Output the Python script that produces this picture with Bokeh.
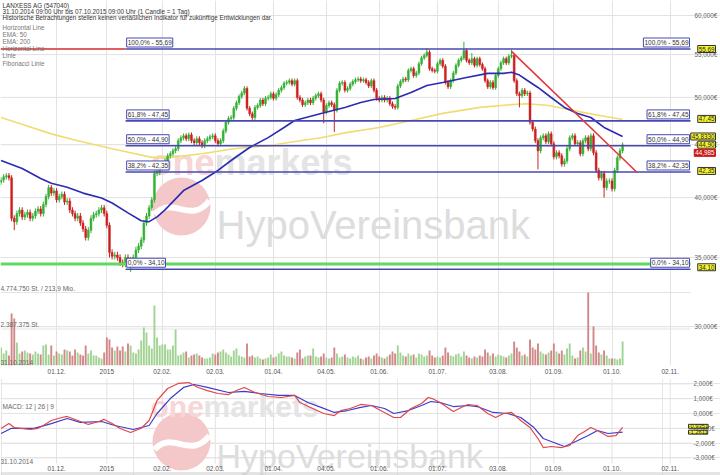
from bokeh.plotting import figure
from bokeh.models import Range1d, LinearScale, FixedTicker, ColumnDataSource
from bokeh.layouts import column
from bokeh.embed import file_html
from bokeh.resources import INLINE
from bokeh.core.properties import value

# ---------------- data ----------------
TICK_DAYS = [21, 40, 61, 81, 103, 123, 143, 165, 188, 209, 231, 253]
TICK_LABELS = ["01.12.", "2015", "02.02.", "02.03.", "01.04.", "04.05.",
               "01.06.", "01.07.", "03.08.", "01.09.", "01.10.", "02.11."]

FIRST_OPEN = 41.4
CLOSE = [
    41.6, 41.9, 42.0, 41.8, 38.2, 37.9, 38.6, 38.9, 38.3, 38.5,
    38.7, 38.2, 38.4, 38.8, 39.0, 38.6, 39.4, 40.1, 40.9, 40.4,
    40.6, 39.8, 40.1, 40.3, 39.6, 39.7, 38.9, 38.6, 38.2, 38.4,
    37.8, 37.3, 36.6, 37.2, 38.2, 38.5, 38.6, 38.9, 39.1, 38.6,
    37.6, 35.4, 35.1, 35.2, 35.0, 34.6, 34.5, 35.0, 34.8, 34.8,
    35.0, 35.6, 35.9, 36.4, 37.8, 38.4, 39.1, 39.8, 42.2, 42.3,
    42.7, 43.0, 43.4, 43.9, 44.1, 44.4, 44.6, 45.4, 45.7, 45.9,
    45.6, 46.0, 45.4, 45.2, 45.6, 45.2, 44.9, 45.4, 45.6, 45.8,
    45.9, 45.4, 45.1, 45.4, 46.4, 47.3, 47.7, 47.8, 48.8, 49.4,
    50.1, 50.5, 51.0, 48.8, 48.2, 47.8, 48.9, 49.1, 49.7, 49.3,
    49.9, 50.0, 50.4, 49.9, 50.3, 50.8, 51.1, 51.6, 51.7, 51.9,
    51.5, 51.9, 50.0, 49.7, 49.2, 49.4, 49.7, 49.4, 49.9, 50.2,
    50.4, 49.7, 48.4, 49.1, 49.4, 49.2, 48.6, 50.8, 51.6, 51.7,
    50.8, 51.0, 51.5, 51.8, 52.0, 52.1, 51.9, 52.0, 51.7, 51.3,
    51.9, 50.8, 49.9, 49.7, 50.0, 49.7, 49.9, 49.3, 49.0, 48.9,
    51.3, 51.8, 52.1, 52.0, 53.1, 53.3, 52.5, 52.8, 53.9, 54.6,
    54.9, 55.3, 53.3, 53.1, 53.0, 53.9, 54.3, 53.6, 51.7, 51.2,
    51.9, 52.8, 53.7, 54.3, 54.6, 55.5, 54.3, 54.0, 54.5, 53.7,
    54.5, 53.8, 53.3, 51.9, 51.2, 51.7, 51.1, 52.5, 53.3, 54.0,
    54.5, 54.0, 54.8, 54.9, 51.9, 50.4, 50.2, 50.8, 50.4, 50.5,
    47.3, 46.6, 45.4, 44.4, 45.7, 45.9, 45.3, 46.1, 45.1, 43.8,
    44.2, 43.9, 43.1, 43.4, 44.6, 45.7, 45.9, 45.1, 45.2, 44.1,
    45.4, 45.7, 44.6, 45.9, 44.2, 42.5, 41.8, 42.2, 40.9, 41.5,
    41.5, 40.8, 42.5, 43.7, 44.4, 44.985,
]
HIGH_PEAKS = {92: 51.3, 161: 55.8, 175: 56.6, 178: 55.2, 193: 55.6}
LOW_DIPS = {5: 37.2, 41: 35.0, 49: 33.9, 122: 47.2, 126: 46.3, 196: 48.9, 203: 42.6, 228: 40.0}

VOLUME_MIO = [
    1.18, 0.78, 0.98, 0.65, 3.40, 3.07, 1.50, 0.78, 0.92, 0.98,
    0.85, 0.78, 0.72, 0.92, 0.78, 0.72, 1.31, 1.37, 0.72, 1.31,
    0.65, 0.92, 0.78, 0.72, 1.05, 0.98, 0.92, 0.65, 1.05, 0.85,
    0.72, 0.65, 1.31, 0.78, 0.98, 0.65, 0.65, 0.52, 0.46, 0.85,
    1.83, 1.70, 1.18, 0.98, 1.24, 0.98, 1.24, 0.92, 1.44, 1.31,
    0.85, 0.78, 1.05, 1.64, 2.49, 2.16, 1.31, 1.11, 3.92, 1.83,
    1.31, 1.37, 1.37, 1.05, 1.05, 1.31, 2.35, 0.65, 0.72, 0.85,
    0.92, 0.52, 0.65, 0.72, 0.78, 0.65, 0.52, 0.46, 0.46, 0.52,
    0.78, 0.72, 0.85, 0.92, 1.05, 0.85, 0.72, 0.59, 0.98, 1.11,
    0.65, 0.59, 0.52, 1.44, 0.59, 0.65, 0.52, 0.59, 0.46, 0.39,
    0.46, 0.52, 0.72, 0.52, 0.59, 0.78, 0.92, 0.65, 0.59, 0.59,
    0.52, 0.46, 0.85, 1.05, 0.46, 0.59, 0.65, 0.65, 1.11, 0.59,
    0.52, 0.59, 0.78, 0.52, 0.46, 0.52, 1.18, 0.78, 0.52, 0.59,
    0.72, 0.52, 0.46, 0.59, 0.52, 0.65, 0.46, 0.39, 0.52, 0.59,
    0.46, 0.65, 0.78, 0.59, 0.52, 0.46, 0.59, 0.72, 0.92, 0.78,
    1.31, 0.85, 0.65, 0.59, 0.78, 0.65, 0.72, 0.52, 0.78, 0.72,
    0.59, 0.65, 0.98, 0.65, 0.52, 0.59, 0.52, 0.65, 1.18, 0.85,
    0.65, 0.59, 0.72, 0.78, 0.59, 0.92, 0.65, 0.52, 0.46, 0.59,
    0.52, 0.65, 0.59, 1.05, 0.85, 0.65, 0.78, 0.59, 0.72, 0.65,
    0.59, 0.52, 0.65, 0.78, 1.57, 1.18, 0.92, 0.65, 0.72, 0.59,
    1.70, 1.18, 1.05, 1.44, 0.92, 0.78, 0.72, 0.85, 0.98, 1.44,
    0.92, 0.78, 0.98, 0.72, 1.11, 1.44, 0.65, 0.46, 0.52, 0.98,
    1.18, 0.92, 4.77, 0.78, 2.55, 1.31, 0.85, 0.72, 0.98, 0.65,
    0.46, 0.46, 0.46, 0.39, 0.46, 1.57,
]

EMA50_DAY = [0, 8, 15, 19, 25, 31, 38, 42, 48, 53, 56, 59, 62, 69, 76, 82, 88, 94, 101, 107,
             111, 121, 130, 136, 141, 149, 155, 161, 167, 176, 184, 190, 193, 196, 199, 203,
             208, 213, 218, 223, 228, 235]
EMA50_VAL = [43.44, 42.68, 41.74, 41.29, 40.93, 40.40, 39.96, 39.52, 38.66, 37.99, 37.91,
             38.32, 38.92, 40.63, 41.55, 42.49, 43.64, 44.72, 45.72, 46.76, 47.49, 48.24,
             48.89, 49.43, 49.77, 49.88, 50.55, 51.35, 51.69, 52.27, 52.75, 52.75, 52.87,
             52.55, 51.92, 51.12, 49.99, 48.89, 48.24, 47.81, 46.76, 45.833]
EMA200_DAY = [0, 9, 19, 29, 42, 49, 57, 64, 76, 88, 101, 113, 121, 130, 143, 155, 167, 181,
              193, 199, 207, 214, 222, 229, 235]
EMA200_VAL = [47.8, 47.0, 46.1, 45.4, 44.6, 44.2, 43.75, 43.75, 44.1, 44.6, 44.9, 45.4, 45.7,
              46.2, 46.75, 47.5, 48.25, 48.9, 49.2, 49.3, 49.1, 48.7, 48.25, 47.9, 47.6]

MACD_DAY = [0, 3, 5, 7.5, 11, 14, 16, 19, 23, 25, 29, 33, 37, 39, 42, 45, 49, 53, 56, 59,
            63, 67, 71, 74.5, 78, 82, 86, 89, 92, 96, 101, 106, 111, 113, 117, 122, 126,
            128.5, 132, 136, 140, 143.5, 148.5, 151, 155, 159, 161.5, 163, 166, 171, 174,
            176.5, 180, 184, 187, 190, 193, 196.5, 200, 203, 205, 208, 212, 215, 218, 220,
            223, 226, 229.5, 232.5, 235]
MACD_VAL = [-1.01, -0.68, -0.95, -1.0, -1.08, -1.0, -0.81, -0.47, -0.27, -0.2, -0.47, -0.74,
            -0.54, -0.4, -0.68, -1.01, -1.28, -1.0, -0.47, 0.88, 1.69, 2.03, 2.09, 1.76, 1.55,
            1.35, 1.28, 1.55, 1.76, 1.42, 1.15, 1.08, 1.22, 0.74, 0.41, 0.0, -0.14, 0.2, 0.34,
            0.61, 0.54, 0.2, -0.27, -0.27, 0.34, 0.68, 1.08, 1.01, 0.74, 0.14, 0.41, 0.61,
            0.54, 0.0, -0.27, 0.0, 0.07, -0.47, -0.95, -1.69, -2.3, -2.23, -2.3, -2.16, -1.49,
            -1.28, -0.95, -1.2, -1.55, -1.5, -0.935]
SIG_DAY = [0, 4, 7.5, 12.5, 19, 25, 30, 38, 43, 50, 56, 59, 64, 69, 73, 78, 86, 92, 98, 105,
           111, 116, 121, 126, 131, 136, 140, 145, 148.5, 154, 159, 162.5, 166, 171, 176.5,
           180, 186, 191.5, 196.5, 201.5, 205, 209, 213, 216.5, 222, 225.5, 229.5, 235]
SIG_VAL = [-1.35, -1.0, -1.0, -1.0, -0.68, -0.34, -0.6, -0.54, -0.81, -1.08, -0.81, 0.0, 1.01,
           1.76, 1.96, 1.76, 1.42, 1.49, 1.35, 1.22, 1.22, 0.74, 0.41, 0.07, 0.2, 0.41, 0.54,
           0.34, 0.0, 0.2, 0.54, 0.81, 0.74, 0.47, 0.54, 0.47, 0.07, 0.0, -0.27, -0.95, -1.69,
           -1.96, -2.23, -1.96, -1.49, -1.15, -1.35, -1.261]

FIB_NAMES = ["100,0%", "61,8%", "50,0%", "38,2%", "0,0%"]
FIB_LEVELS = [55.69, 47.45, 44.90, 42.35, 34.10]
FIB_START_DAY = 47.1
RED_LEVEL = 55.69
GREEN_LEVEL = 34.5
TREND_DAY = [193, 240.5]
TREND_VAL = [55.4, 42.3]

PRICE_TICKS = [30, 35, 40, 45, 50, 55, 60]
VOL_TICKS = [2387375, 4774750]
VOL_TICK_LABELS = ["2.387.375 St.", "4.774.750 St. / 213,9 Mio."]
MACD_TICKS = [-3, -2, -1, 0, 1, 2]

TAG_TEXT = ["55,69", "47,45", "45,8330", "44,90", "44,985", "42,35", "34,10"]
TAG_VALUE = [55.69, 47.45, 45.833, 44.90, 44.985, 42.35, 34.10]
MACD_TAG_TEXT = ["-0,9351", "-1,2611"]
MACD_TAG_VALUE = [-0.9351, -1.2611]

HEADER = ["LANXESS AG (547040)",
          "31.10.2014 09:00 Uhr bis 07.10.2015 09:00 Uhr (1 Candle = 1 Tag)",
          "Historische Betrachtungen stellen keinen verläßlichen Indikator für zukünftige Entwicklungen dar."]
LEGEND = ["Horizontal Line", "EMA: 50", "EMA: 200", "Horizontal Line", "Linie", "Fibonacci Linie"]

# ---------------- layout helpers (reference pixel -> data) ----------------
FONT = "Liberation Sans"
PXD = 2.645
D0 = -0.2


def px2day(px):
    return D0 + px / PXD


def py2price(py):
    return 10 ** ((1853.3 - py) / 1033.8)


def py2macd(py):
    return (413.0 - py) / 14.8


GRID_END = px2day(690)
GRID_COL = "#e3e3e3"
FIB_COL = "#4848b4"
x_range = Range1d(px2day(0), px2day(720))


def txt(fig, x, y, s, size="6.5px", color="#555555", align="left", baseline="middle", **kw):
    fig.text(x=[x], y=[y], text=[s], text_font=value(FONT), text_font_size=size,
             text_color=color, text_align=align, text_baseline=baseline, **kw)


def base_style(fig):
    fig.outline_line_color = None
    fig.background_fill_color = "white"
    fig.border_fill_color = "white"


def watermark(fig, ymap, one_base, one_size, markets_x, hypo_base, hypo_size, logo_y):
    fig.scatter(x=[px2day(181)], y=[ymap(logo_y)], size=58, marker="circle",
                fill_color="#f4c8c8", line_color=None)
    fig.bezier(x0=[px2day(154)], y0=[ymap(logo_y + 8)], x1=[px2day(209)], y1=[ymap(logo_y - 6)],
               cx0=[px2day(172)], cy0=[ymap(logo_y - 12)], cx1=[px2day(190)],
               cy1=[ymap(logo_y + 19)], line_color="white", line_width=6)
    fig.text(x=[px2day(150)], y=[ymap(one_base)], text=["one"], text_font=value(FONT),
             text_font_size=one_size, text_font_style="bold", text_color="#f6d6d6",
             text_baseline="alphabetic")
    fig.text(x=[px2day(markets_x)], y=[ymap(one_base)], text=["markets"], text_font=value(FONT),
             text_font_size=one_size, text_font_style="bold", text_color="#e4e4e4",
             text_baseline="alphabetic")
    fig.text(x=[px2day(216)], y=[ymap(hypo_base)], text=["HypoVereinsbank"], text_font=value(FONT),
             text_font_size=hypo_size, text_color="#dddddd", text_baseline="alphabetic")


# ---------------- main price + volume figure ----------------
p = figure(frame_width=720, frame_height=365, x_range=x_range,
           y_range=Range1d(py2price(365), py2price(0)), y_axis_type="log",
           y_axis_location=None, output_backend="svg", toolbar_location=None,
           min_border=0, min_border_bottom=13)
p.extra_y_ranges = {"vol": Range1d(0, 23.874e6)}
p.extra_y_scales = {"vol": LinearScale()}
base_style(p)
ax = p.xaxis[0]
ax.ticker = FixedTicker(ticks=TICK_DAYS)
ax.major_label_overrides = {d: l for d, l in zip(TICK_DAYS, TICK_LABELS)}
ax.axis_line_color = None
ax.major_tick_line_color = None
ax.minor_tick_line_color = None
ax.major_tick_out = 0
ax.major_tick_in = 0
ax.minor_tick_out = 0
ax.minor_tick_in = 0
ax.major_label_text_font = FONT
ax.major_label_text_font_size = "6.5px"
ax.major_label_text_color = "#555555"
ax.major_label_standoff = 3
p.xgrid.grid_line_color = GRID_COL

# horizontal grids
n_pt = len(PRICE_TICKS)
p.segment(x0=[px2day(0)] * n_pt, y0=PRICE_TICKS, x1=[GRID_END] * n_pt, y1=PRICE_TICKS,
          line_color=GRID_COL, line_width=1)
p.segment(x0=[px2day(0)] * 2, y0=VOL_TICKS, x1=[GRID_END] * 2, y1=VOL_TICKS,
          line_color=GRID_COL, line_width=1, y_range_name="vol")

watermark(p, py2price, 162, "36px", 214, 224, "40px", 206)

# candles
n = len(CLOSE)
days = list(range(n))
opens = [FIRST_OPEN] + CLOSE[:-1]
WICK = 0.25
highs = [max(o, c) + WICK for o, c in zip(opens, CLOSE)]
lows = [min(o, c) - WICK for o, c in zip(opens, CLOSE)]
for d, v in HIGH_PEAKS.items():
    highs[d] = max(highs[d], v)
for d, v in LOW_DIPS.items():
    lows[d] = min(lows[d], v)
up = [c >= o for o, c in zip(opens, CLOSE)]
cs = ColumnDataSource(dict(
    x=days, o=opens, c=CLOSE, h=highs, l=lows,
    top=[max(o, c) for o, c in zip(opens, CLOSE)],
    bot=[min(o, c) for o, c in zip(opens, CLOSE)],
    col=["#35b035" if u else "#cc2020" for u in up],
    vcol=["#a3d394" if u else "#d08888" for u in up],
    vol=[v * 1e6 for v in VOLUME_MIO],
))

p.vbar(x="x", top="vol", bottom=0, width=0.72, fill_color="vcol", line_color=None,
       source=cs, y_range_name="vol")
for t, lab in zip(VOL_TICKS, VOL_TICK_LABELS):
    txt(p, px2day(0), t, lab, color="#666666", baseline="bottom", y_offset=-1,
        y_range_name="vol")

p.line(EMA200_DAY, EMA200_VAL, line_color="#f0dc72", line_width=1.6)

p.segment(x0="x", y0="l", x1="x", y1="h", line_color="col", line_width=1, source=cs)
p.vbar(x="x", top="top", bottom="bot", width=0.72, fill_color="col", line_color="col",
       line_width=0.5, source=cs)

p.line(EMA50_DAY, EMA50_VAL, line_color="#2b2bb2", line_width=1.6)

# horizontal lines
p.segment(x0=[px2day(0)], y0=[GREEN_LEVEL], x1=[GRID_END], y1=[GREEN_LEVEL],
          line_color="#5fd95f", line_width=3)
p.segment(x0=[px2day(0)], y0=[RED_LEVEL], x1=[FIB_START_DAY], y1=[RED_LEVEL],
          line_color="#e06060", line_width=2)
nf = len(FIB_LEVELS)
p.segment(x0=[FIB_START_DAY] * nf, y0=FIB_LEVELS, x1=[GRID_END] * nf, y1=FIB_LEVELS,
          line_color=FIB_COL, line_width=1.6)
p.line(TREND_DAY, TREND_VAL, line_color="#e03a3a", line_width=1.6)

# fibonacci labels
fib_txt = [f"{nm} - {lv:.2f}".replace(".", ",") for nm, lv in zip(FIB_NAMES, FIB_LEVELS)]
fs = ColumnDataSource(dict(xl=[FIB_START_DAY + 0.4] * nf, xr=[px2day(689)] * nf,
                           y=FIB_LEVELS, t=fib_txt))
for xcol, al in (("xl", "left"), ("xr", "right")):
    p.text(x=xcol, y="y", text="t", source=fs, text_font=value(FONT), text_font_size="6.5px",
           text_color="#333333", text_align=al, text_baseline="bottom", y_offset=-2,
           background_fill_color="white", border_line_color=FIB_COL, border_line_width=1,
           padding=1)

# right price axis labels
for t in PRICE_TICKS:
    txt(p, px2day(694), t, f"{t:.3f}".replace(".", ",") + "€", color="#666666", size="6.3px")

# value tags (right-aligned inside the window)
tag_src = ColumnDataSource(dict(
    x=[px2day(715)] * len(TAG_TEXT), y=TAG_VALUE, t=TAG_TEXT,
    bg=["#f6f630", "#f6f630", "#f6f630", "#f6f630", "#cc1818", "#f6f630", "#f6f630"],
    fg=["#222222", "#222222", "#222222", "#222222", "white", "#222222", "#222222"],
    bd=["#333333", "#333333", "#333333", "#333333", "#cc1818", "#333333", "#333333"],
    dy=[0, -2, 0, -1, 8, -1, -2],
))
p.text(x="x", y="y", text="t", source=tag_src, text_font=value(FONT), text_font_size="6.3px",
       text_color="fg", text_align="right", text_baseline="middle", y_offset="dy",
       background_fill_color="bg", border_line_color="bd", border_line_width=1, padding=1)

# header and legend
for i, s in enumerate(HEADER):
    txt(p, px2day(2), py2price(4.5 + 6 * i), s, color="#333333", size="6.3px")
for i, s in enumerate(LEGEND):
    txt(p, px2day(2), py2price(26.5 + 7.2 * i), s, color="#777777", size="6.3px")
txt(p, px2day(0), py2price(362), "31.10.2014", color="#666666")

# ---------------- MACD figure ----------------
q = figure(frame_width=720, frame_height=97, x_range=x_range,
           y_range=Range1d(py2macd(475), py2macd(378)), y_axis_location=None,
           x_axis_location=None, output_backend="svg", toolbar_location=None, min_border=0)
base_style(q)
nt = len(TICK_DAYS)
q.segment(x0=TICK_DAYS, y0=[py2macd(378)] * nt, x1=TICK_DAYS, y1=[py2macd(463)] * nt,
          line_color=GRID_COL, line_width=1)
nm_ = len(MACD_TICKS)
q.segment(x0=[px2day(0)] * nm_, y0=MACD_TICKS, x1=[GRID_END] * nm_, y1=MACD_TICKS,
          line_color=GRID_COL, line_width=1)
watermark(q, py2macd, 406, "30px", 203, 455, "34px", 441)
q.segment(x0=[px2day(0)], y0=[py2macd(473.5)], x1=[px2day(720)], y1=[py2macd(473.5)],
          line_color="#c8c8c8", line_width=1)
q.line(SIG_DAY, SIG_VAL, line_color="#3c3cd0", line_width=1.2)
q.line(MACD_DAY, MACD_VAL, line_color="#e04848", line_width=1.2)
for t in MACD_TICKS:
    txt(q, px2day(693), t, f"{t:.3f}".replace(".", ",") + "€", color="#666666", size="6.3px")
mt = ColumnDataSource(dict(x=[px2day(688)] * 2, y=MACD_TAG_VALUE, t=MACD_TAG_TEXT, dy=[-1, 0]))
q.text(x="x", y="y", text="t", source=mt, text_font=value(FONT), text_font_size="5.8px",
       text_color="#222222", text_align="left", text_baseline="middle", y_offset="dy",
       background_fill_color="#f6f630", border_line_color="#333333", border_line_width=1,
       padding=0)
q.text(x=TICK_DAYS, y=[py2macd(468)] * nt, text=TICK_LABELS, text_font=value(FONT),
       text_font_size="6.5px", text_color="#555555", text_align="center",
       text_baseline="middle")
txt(q, px2day(2), py2macd(406), "MACD: 12 | 26 | 9", color="#666666")
txt(q, px2day(0), py2macd(461), "31.10.2014", color="#666666")

layout = column(p, q, spacing=0)
open("out.html", "w").write(file_html(layout, INLINE, title="LANXESS AG"))
